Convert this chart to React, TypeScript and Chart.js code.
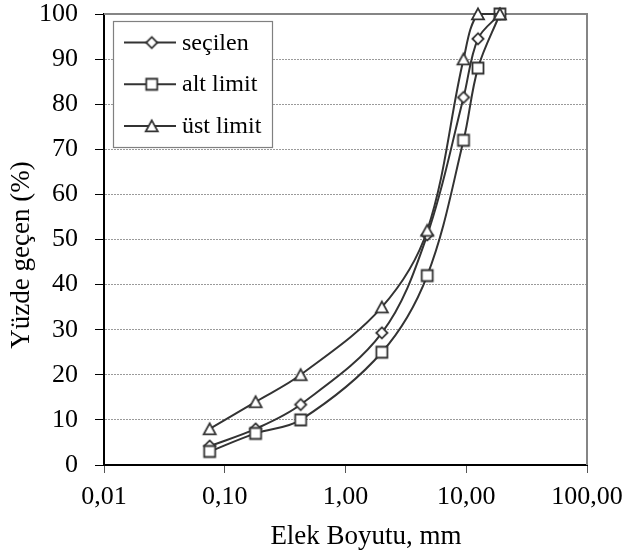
import React, { useEffect, useRef } from 'react';
import { Chart, registerables } from 'chart.js';

Chart.register(...registerables);

// ---- data ----
const sieveSizes = [0.075, 0.18, 0.425, 2.0, 4.75, 9.5, 12.5, 19.0];
const secilen = [4.2, 8.0, 13.4, 29.3, 51.0, 81.5, 94.5, 100];
const altLimit = [3, 7, 10, 25, 42, 72, 88, 100];
const ustLimit = [8, 14, 20, 35, 52, 90, 100, 100];
const seriesNames = ['seçilen', 'alt limit', 'üst limit'];
const xTickValues = [0.01, 0.1, 1, 10, 100];
const xTickLabels = ['0,01', '0,10', '1,00', '10,00', '100,00'];
const xTitle = 'Elek Boyutu, mm';
const yTitle = 'Yüzde geçen (%)';

const FONT = "'Liberation Serif', 'Times New Roman', serif";
const INK = '#333333';

function makeMarker(kind: 'diamond' | 'square' | 'triangle'): HTMLCanvasElement {
  const c = document.createElement('canvas');
  const s = 18;
  c.width = s;
  c.height = s;
  const ctx = c.getContext('2d') as CanvasRenderingContext2D;
  const m = s / 2;
  ctx.lineWidth = 1.8;
  ctx.strokeStyle = INK;
  ctx.fillStyle = '#ffffff';
  ctx.beginPath();
  if (kind === 'diamond') {
    const r = 5.6;
    ctx.moveTo(m, m - r);
    ctx.lineTo(m + r, m);
    ctx.lineTo(m, m + r);
    ctx.lineTo(m - r, m);
  } else if (kind === 'square') {
    ctx.rect(m - 5.5, m - 5.5, 11, 11);
  } else {
    ctx.moveTo(m, m - 5.6);
    ctx.lineTo(m + 6, m + 5.4);
    ctx.lineTo(m - 6, m + 5.4);
  }
  ctx.closePath();
  ctx.fill();
  ctx.stroke();
  return c;
}

const framePlugin = {
  id: 'frameLines',
  beforeDatasetsDraw(chart: any) {
    const { ctx } = chart;
    const { left, right, top, bottom } = chart.chartArea;
    ctx.save();
    ctx.strokeStyle = '#858585';
    ctx.lineWidth = 2;
    ctx.beginPath();
    ctx.moveTo(left, top);
    ctx.lineTo(right, top);
    ctx.lineTo(right, bottom);
    ctx.stroke();
    ctx.restore();
  },
};

const titlesPlugin = {
  id: 'axisTitles',
  afterDraw(chart: any) {
    const { ctx } = chart;
    ctx.save();
    ctx.fillStyle = '#000000';
    ctx.font = `27px ${FONT}`;
    ctx.textAlign = 'center';
    ctx.textBaseline = 'alphabetic';
    ctx.fillText(xTitle, 366, 544);
    ctx.translate(29, 255);
    ctx.rotate(-Math.PI / 2);
    ctx.fillText(yTitle, 0, 0);
    ctx.restore();
  },
};

const legendPlugin = {
  id: 'boxLegend',
  afterDatasetsDraw(chart: any) {
    const { ctx } = chart;
    const { left, top } = chart.chartArea;
    const bx = left + 9;
    const by = top + 7;
    const bw = 159;
    const bh = 126;
    ctx.save();
    ctx.fillStyle = '#ffffff';
    ctx.fillRect(bx, by, bw, bh);
    ctx.strokeStyle = '#808080';
    ctx.lineWidth = 1.2;
    ctx.strokeRect(Math.round(bx) + 0.5, Math.round(by) + 0.5, bw, bh);
    chart.data.datasets.forEach((ds: any, i: number) => {
      const y = by + 21.6 + i * 41.7;
      ctx.strokeStyle = INK;
      ctx.lineWidth = 2;
      ctx.beginPath();
      ctx.moveTo(bx + 11, y);
      ctx.lineTo(bx + 63, y);
      ctx.stroke();
      const img = ds.pointStyle as HTMLCanvasElement;
      ctx.drawImage(img, bx + 38.7 - img.width / 2, y - img.height / 2);
      ctx.fillStyle = '#000000';
      ctx.font = `24px ${FONT}`;
      ctx.textBaseline = 'alphabetic';
      ctx.textAlign = 'left';
      ctx.fillText(ds.label, bx + 69, y + 7);
    });
    ctx.restore();
  },
};

export default function App() {
  const canvasRef = useRef<HTMLCanvasElement | null>(null);

  useEffect(() => {
    const canvas = canvasRef.current;
    if (!canvas) return;
    Chart.defaults.font.family = FONT;
    Chart.defaults.color = '#000000';

    const markers = [makeMarker('diamond'), makeMarker('square'), makeMarker('triangle')];
    const series = [secilen, altLimit, ustLimit];
    const orders = [2, 1, 0];

    const datasets = series.map((vals, si) => ({
      label: seriesNames[si],
      data: sieveSizes.map((x, i) => ({ x, y: vals[i] })),
      borderColor: INK,
      borderWidth: 2,
      backgroundColor: '#ffffff',
      pointStyle: markers[si],
      pointRadius: 7,
      tension: 0.35,
      clip: false as any,
      order: orders[si],
    }));

    const chart = new Chart(canvas, {
      type: 'line',
      data: { datasets },
      plugins: [framePlugin, legendPlugin, titlesPlugin],
      options: {
        animation: false,
        responsive: false,
        devicePixelRatio: 1,
        layout: { padding: { left: 0, right: 42, top: 14, bottom: 0 } },
        plugins: {
          legend: { display: false },
          tooltip: { enabled: false },
        },
        scales: {
          x: {
            type: 'logarithmic',
            min: 0.01,
            max: 100,
            afterBuildTicks: (scale: any) => {
              scale.ticks = xTickValues.map((v) => ({ value: v }));
            },
            afterFit: (scale: any) => {
              scale.height = 92;
              scale.paddingLeft = 0;
              scale.paddingRight = 0;
              scale.paddingTop = 0;
              scale.paddingBottom = 0;
            },
            ticks: {
              autoSkip: false,
              maxRotation: 0,
              minRotation: 0,
              padding: 9,
              font: { size: 26, family: FONT },
              color: '#000000',
              callback: (_v: any, index: number) => xTickLabels[index],
            },
            grid: {
              drawOnChartArea: false,
              drawTicks: true,
              tickLength: 8,
              color: '#555555',
              tickColor: '#555555',
              lineWidth: 1,
            },
            border: { display: true, color: '#000000', width: 2 },
            title: { display: false },
          },
          y: {
            type: 'linear',
            min: 0,
            max: 100,
            afterFit: (scale: any) => {
              scale.width = 104;
              scale.paddingLeft = 0;
              scale.paddingRight = 0;
              scale.paddingTop = 0;
              scale.paddingBottom = 0;
            },
            ticks: {
              stepSize: 10,
              padding: 17,
              font: { size: 26, family: FONT },
              color: '#000000',
            },
            grid: {
              drawOnChartArea: true,
              drawTicks: true,
              tickLength: 9,
              color: '#9a9a9a',
              tickColor: '#000000',
              lineWidth: 1,
              tickWidth: 1,
            },
            border: { display: true, color: '#000000', width: 2, dash: [2, 1] },
            title: { display: false },
          },
        },
      } as any,
    });

    return () => {
      chart.destroy();
    };
  }, []);

  return (
    <div style={{ position: 'absolute', left: 0, top: 0, width: 629, height: 557, background: '#ffffff' }}>
      <canvas ref={canvasRef} width={629} height={557} style={{ display: 'block' }} />
    </div>
  );
}
